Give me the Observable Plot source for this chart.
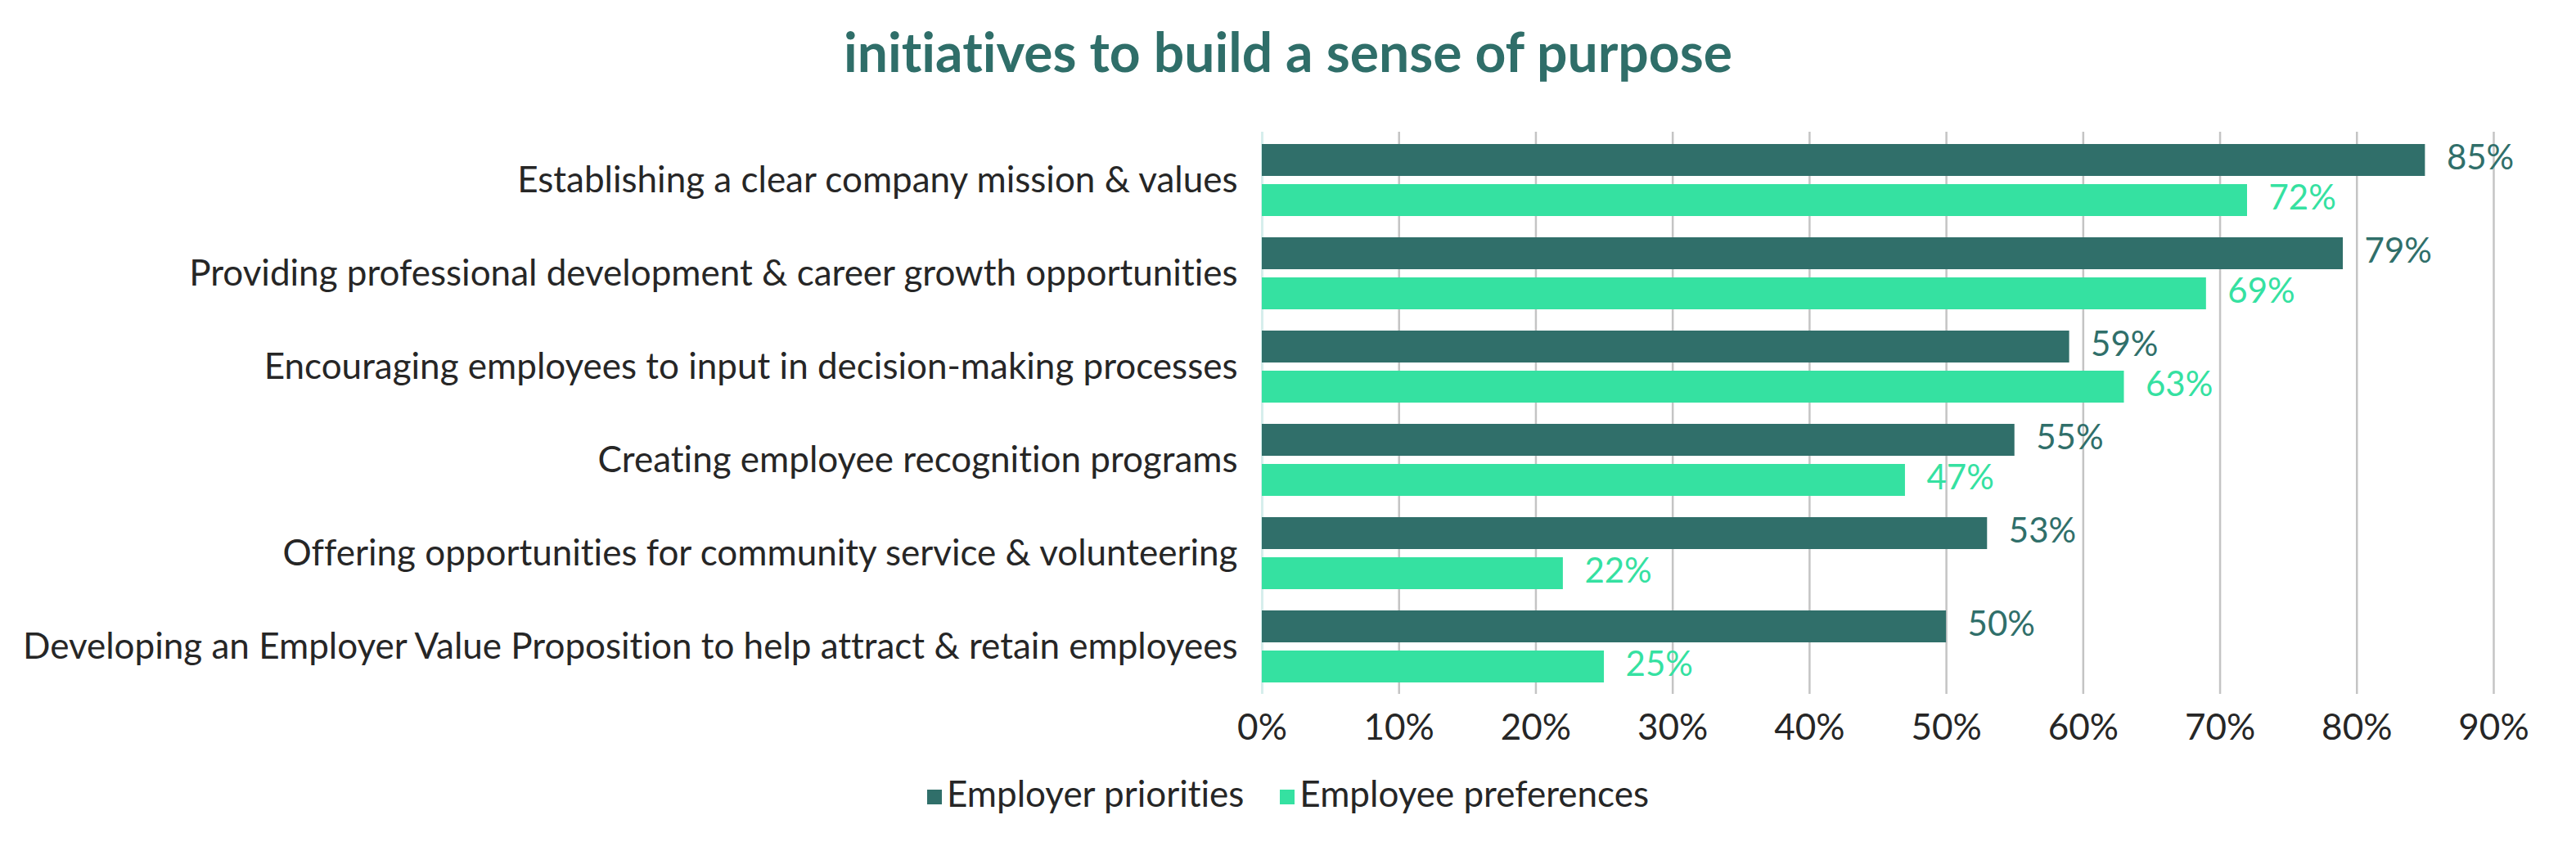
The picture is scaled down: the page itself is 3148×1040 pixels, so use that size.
<!DOCTYPE html>
<html>
<head>
<meta charset="utf-8">
<script src="https://cdn.jsdelivr.net/npm/d3@7"></script>
<script src="https://cdn.jsdelivr.net/npm/@observablehq/plot@0.6"></script>
<style>
  body { margin: 0; background: #fff; font-family: Lato, sans-serif; font-variant-ligatures: none; }
  svg text { font-variant-ligatures: none; }
  #title { height: 130px; box-sizing: border-box; padding-top: 33px; text-align: center;
           font: bold 66px/60px Lato, sans-serif; color: #2f6e69; font-variant-ligatures: none; }
  #legend { display: flex; justify-content: center; align-items: center; padding-top: 9px;
            font: 44px/60px Lato, sans-serif; color: #262626; font-variant-ligatures: none; }
  #legend span.sw { display: inline-block; width: 18px; height: 18px; margin-right: 6px; margin-top: 10px; }
  #legend .item { display: flex; align-items: center; margin: 0 22px; }
</style>
</head>
<body>
<div id="title">initiatives to build a sense of purpose</div>
<div id="chart"></div>
<div id="legend"></div>
<script>
// datos
const categories = [
  "Establishing a clear company mission & values",
  "Providing professional development & career growth opportunities",
  "Encouraging employees to input in decision-making processes",
  "Creating employee recognition programs",
  "Offering opportunities for community service & volunteering",
  "Developing an Employer Value Proposition to help attract & retain employees"
]
const employer = [0.85, 0.79, 0.59, 0.55, 0.53, 0.50]
const employee = [0.72, 0.69, 0.63, 0.47, 0.22, 0.25]
const series = ["Employer priorities", "Employee preferences"]
const colors = ["#306f6a", "#35e1a1"]
const xTicks = [0, 0.1, 0.2, 0.3, 0.4, 0.5, 0.6, 0.7, 0.8, 0.9]

const dataEmployer = categories.map((c, i) => ({cat: c, value: employer[i]}))
const dataEmployee = categories.map((c, i) => ({cat: c, value: employee[i]}))

const fmt = d3.format(".0%")

let chart = Plot.plot({
  width: 3148,
  height: 800,
  marginLeft: 1542,
  marginRight: 101,
  marginTop: 31,
  marginBottom: 82,
  style: {fontFamily: "Lato, sans-serif", fontSize: "44px", color: "#262626"},
  x: {domain: [0, 0.9], ticks: xTicks, tickFormat: fmt},
  y: {domain: categories, padding: 0},
  marks: [
    Plot.gridX(xTicks.filter(d => d > 0), {stroke: "#c4c4c4", strokeOpacity: 1, strokeWidth: 2.5}),
    Plot.ruleX([0], {stroke: "#d6eeec", strokeWidth: 3}),
    // barras empleador arriba, empleado abajo
    Plot.barX(dataEmployer, {y: "cat", x: "value", fill: colors[0], insetTop: 13, insetBottom: 62}),
    Plot.barX(dataEmployee, {y: "cat", x: "value", fill: colors[1], insetTop: 62, insetBottom: 13}),
    Plot.text(dataEmployer, {y: "cat", x: "value", text: d => fmt(d.value), textAnchor: "start", dx: 26, dy: -27, fill: colors[0], fontSize: 42}),
    Plot.text(dataEmployee, {y: "cat", x: "value", text: d => fmt(d.value), textAnchor: "start", dx: 26, dy: 22, fill: colors[1], fontSize: 42}),
    Plot.axisX(xTicks, {tickFormat: fmt, tickSize: 0, tickPadding: 24, label: null, fontSize: 44, fill: "#262626"}),
    Plot.axisY({tickSize: 0, tickPadding: 30, label: null, fontSize: 44, fill: "#262626"})
  ]
})
d3.select('#chart').append(() => chart)

// leyenda
const leg = d3.select('#legend')
series.forEach((s, i) => {
  const it = leg.append('div').attr('class', 'item')
  it.append('span').attr('class', 'sw').style('background', colors[i])
  it.append('span').text(s)
})
</script>
</body>
</html>
